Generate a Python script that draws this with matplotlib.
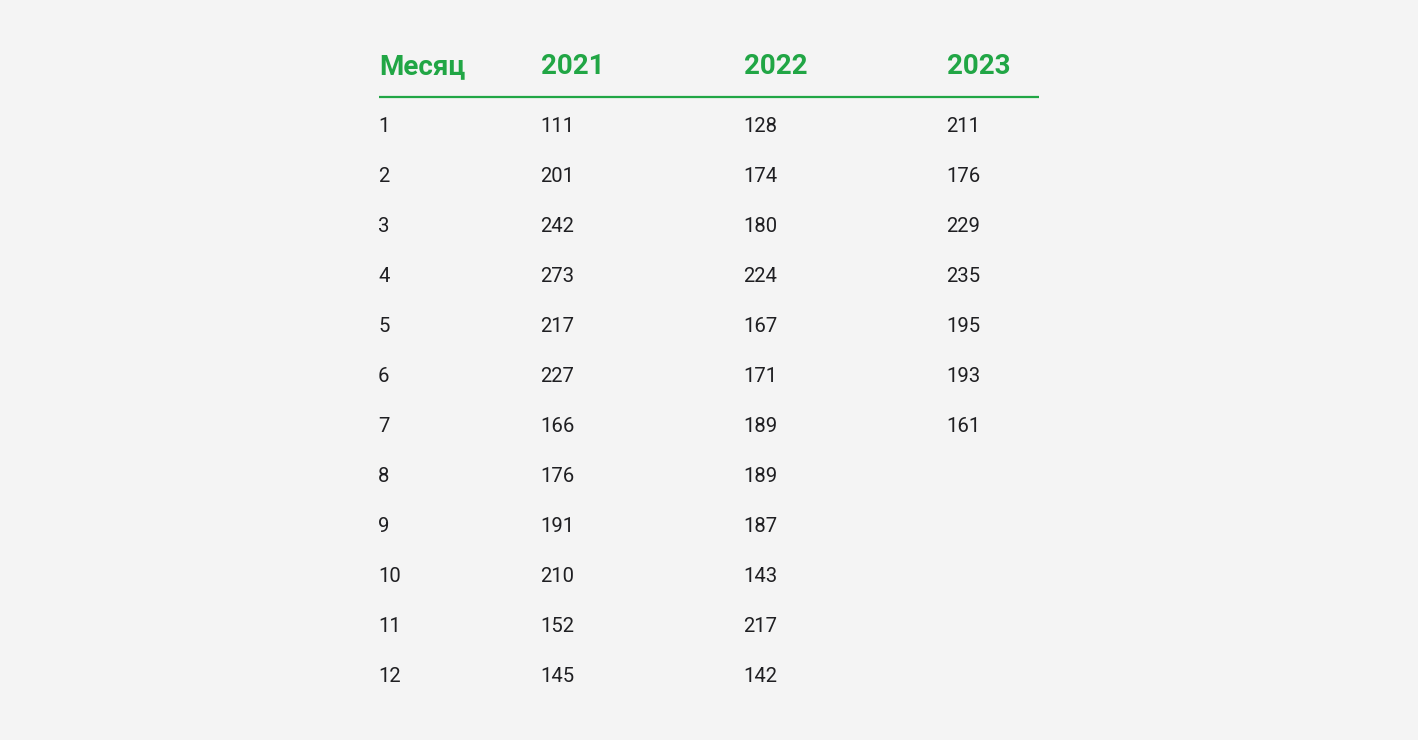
import matplotlib.pyplot as plt

# Table data
months = list(range(1, 13))
years = ['2021', '2022', '2023']
values_2021 = [111, 201, 242, 273, 217, 227, 166, 176, 191, 210, 152, 145]
values_2022 = [128, 174, 180, 224, 167, 171, 189, 189, 187, 143, 217, 142]
values_2023 = [211, 176, 229, 235, 195, 193, 161]
header_first = 'Месяц'

green = '#21a645'
text_col = '#1f1f22'
bg = '#f4f4f4'

fig = plt.figure(figsize=(14.18, 7.4), dpi=100, facecolor=bg)
ax = fig.add_axes([0, 0, 1, 1])
ax.set_xlim(0, 1418)
ax.set_ylim(740, 0)
ax.axis('off')
ax.set_facecolor(bg)

col_x = [379, 541, 744, 947]
header_y = 67
row0_y = 127
row_step = 50

# header
for x, label in zip(col_x, [header_first] + years):
    ax.text(x, header_y, label, color=green, fontsize=20, fontweight='bold',
            family='Roboto', ha='left', va='center')
ax.plot([379, 1039], [97, 97], color=green, lw=1.6, solid_capstyle='butt')

# body
columns = [months, values_2021, values_2022, values_2023]
for x, col in zip(col_x, columns):
    for i, v in enumerate(col):
        ax.text(x - 1, row0_y + i * row_step, str(v), color=text_col, fontsize=14.6,
                family='Roboto', ha='left', va='center')

plt.savefig('out.png', dpi=100, facecolor=bg)
